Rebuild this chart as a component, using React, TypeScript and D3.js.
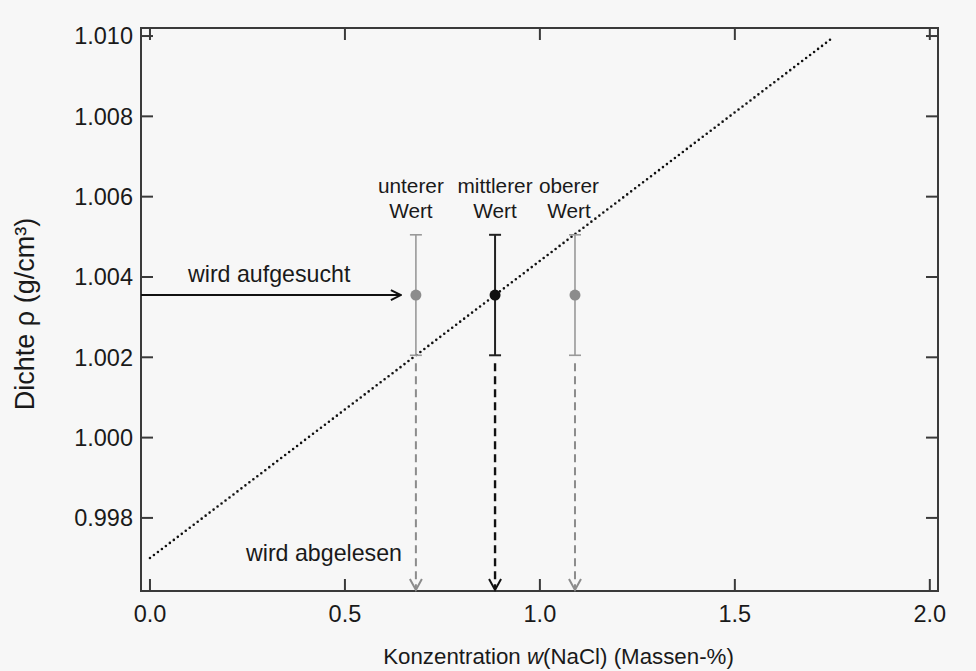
import React from "react";
import * as d3 from "d3";

const xTicks = [0.0, 0.5, 1.0, 1.5, 2.0];
const yTicks = [0.998, 1.0, 1.002, 1.004, 1.006, 1.008, 1.01];

// calibration line (dotted)
const lineW = [0.0, 1.75];
const lineRho = [0.997, 1.00995];

// measured density and the three read-off concentrations
const rhoMeasured = 1.00355;
const rhoError = 0.0015;
const labelsTop = ["unterer", "mittlerer", "oberer"];
const labelsBottom = ["Wert", "Wert", "Wert"];
const wValues = [0.682, 0.885, 1.09];
const isMain = [false, true, false];

const W = 976;
const H = 671;
const FONT = "'Liberation Sans', Arial, sans-serif";

const App: React.FC = () => {
  const left = 141;
  const right = 938;
  const top = 28;
  const bottom = 591;

  const x = d3.scaleLinear().domain([-0.023, 2.021]).range([left, right]);
  const y = d3.scaleLinear().domain([0.99618, 1.0102]).range([bottom, top]);

  const tickLen = 12;
  const axisColor = "#3a3a3a";
  const gray = "#8c8c8c";
  const black = "#111";

  const calib = d3.line<number>()
    .x((_, i) => x(lineW[i]))
    .y((d) => y(d))(lineRho);

  const yPoint = y(rhoMeasured);
  const labelDx = [-5, 0, -6];

  return (
    <div style={{ position: "absolute", left: 0, top: 0 }}>
      <svg width={W} height={H} style={{ display: "block", background: "#f7f7f7" }}>
        <defs>
          <marker id="headBlack" viewBox="0 0 12 12" refX="11" refY="6" markerWidth="12" markerHeight="12" markerUnits="userSpaceOnUse" orient="auto">
            <path d="M1,1 L11,6 L1,11" fill="none" stroke={black} strokeWidth={2} />
          </marker>
        </defs>

        {/* frame */}
        <rect x={left} y={top} width={right - left} height={bottom - top} fill="none" stroke={axisColor} strokeWidth={2} />

        {/* x ticks bottom and top */}
        {xTicks.map((t) => (
          <g key={"xt" + t}>
            <line x1={x(t)} x2={x(t)} y1={bottom} y2={bottom - tickLen} stroke={axisColor} strokeWidth={2} />
            <line x1={x(t)} x2={x(t)} y1={top} y2={top + tickLen} stroke={axisColor} strokeWidth={2} />
            <text x={x(t)} y={622} textAnchor="middle" fontFamily={FONT} fontSize={23.5} fill="#1a1a1a">
              {t.toFixed(1)}
            </text>
          </g>
        ))}

        {/* y ticks left and right */}
        {yTicks.map((t) => (
          <g key={"yt" + t}>
            <line x1={left} x2={left + tickLen} y1={y(t)} y2={y(t)} stroke={axisColor} strokeWidth={2} />
            <line x1={right} x2={right - tickLen} y1={y(t)} y2={y(t)} stroke={axisColor} strokeWidth={2} />
            <text x={133} y={y(t)} dy="0.35em" textAnchor="end" fontFamily={FONT} fontSize={23.5} fill="#1a1a1a">
              {t.toFixed(3)}
            </text>
          </g>
        ))}

        {/* axis titles */}
        <text x={(left + right) / 2 + 19} y={664} textAnchor="middle" fontFamily={FONT} fontSize={22.3} fill="#1a1a1a">
          Konzentration <tspan fontStyle="italic">w</tspan>(NaCl) (Massen-%)
        </text>
        <text transform={`translate(34,${314}) rotate(-90)`} textAnchor="middle" fontFamily={FONT} fontSize={27} fill="#1a1a1a">
          Dichte ρ (g/cm<tspan>³</tspan>)
        </text>

        {/* calibration line */}
        <path d={calib ?? ""} fill="none" stroke={black} strokeWidth={2.6} strokeDasharray="0 5" strokeLinecap="round" />

        {/* "wird aufgesucht" arrow */}
        <line x1={left} x2={x(wValues[0]) - 15} y1={yPoint} y2={yPoint} stroke={black} strokeWidth={2} markerEnd="url(#headBlack)" />
        <text x={188} y={282} fontFamily={FONT} fontSize={23.2} fill="#1a1a1a">wird aufgesucht</text>
        <text x={246} y={561} fontFamily={FONT} fontSize={23.2} fill="#1a1a1a">wird abgelesen</text>

        {/* error bars, points, read-off arrows */}
        {wValues.map((w, i) => {
          const c = isMain[i] ? black : gray;
          const bar = isMain[i] ? "#222" : "#999";
          const sw = isMain[i] ? 2 : 1.6;
          const px = x(w);
          const yTop = y(rhoMeasured + rhoError);
          const yBot = y(rhoMeasured - rhoError);
          const arrowStart = yBot + 8;
          const arrowEnd = bottom - 1;
          return (
            <g key={"pt" + i}>
              <text x={px + labelDx[i]} y={193} textAnchor="middle" fontFamily={FONT} fontSize={20.8} fill="#1a1a1a">
                {labelsTop[i]}
              </text>
              <text x={px + labelDx[i]} y={218} textAnchor="middle" fontFamily={FONT} fontSize={20.8} fill="#1a1a1a">
                {labelsBottom[i]}
              </text>
              <line x1={px} x2={px} y1={yTop} y2={yBot} stroke={bar} strokeWidth={sw} />
              <line x1={px - 6} x2={px + 6} y1={yTop} y2={yTop} stroke={bar} strokeWidth={sw} />
              <line x1={px - 6} x2={px + 6} y1={yBot} y2={yBot} stroke={bar} strokeWidth={sw} />
              <circle cx={px} cy={yPoint} r={5.5} fill={isMain[i] ? black : gray} />
              <line x1={px} x2={px} y1={arrowStart} y2={arrowEnd - 2} stroke={c} strokeWidth={isMain[i] ? 2.4 : 2} strokeDasharray="8 5" />
              <path d={`M${px - 6},${arrowEnd - 11} L${px},${arrowEnd} L${px + 6},${arrowEnd - 11}`} fill="none" stroke={c} strokeWidth={2} />
            </g>
          );
        })}
      </svg>
    </div>
  );
};

export default App;
